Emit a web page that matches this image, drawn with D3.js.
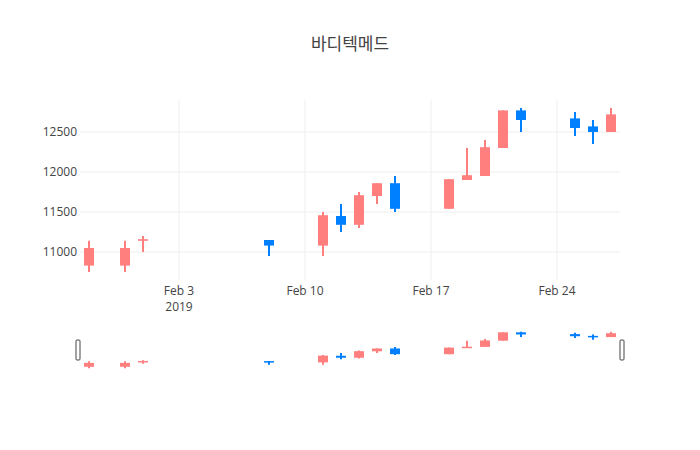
<!DOCTYPE html>
<html><head><meta charset="utf-8">
<script src="https://cdn.jsdelivr.net/npm/d3@7"></script>
<style>body{margin:0;background:#fff}text{font-family:"Open Sans","Noto Sans CJK KR",sans-serif}</style>
</head><body><svg id="c" width="700" height="450"></svg>
<script>
const dates=["2019-01-29","2019-01-31","2019-02-01","2019-02-08","2019-02-11","2019-02-12","2019-02-13","2019-02-14","2019-02-15","2019-02-18","2019-02-19","2019-02-20","2019-02-21","2019-02-22","2019-02-25","2019-02-26","2019-02-27"];
const open =[10830,10830,11140,11150,11080,11450,11340,11700,11860,11540,11900,11950,12300,12770,12670,12570,12500];
const high =[11140,11140,11200,11150,11500,11600,11750,11860,11950,11910,12300,12400,12770,12800,12750,12650,12800];
const low  =[10750,10750,11000,10950,10950,11250,11300,11600,11500,11540,11900,11950,12300,12500,12450,12350,12500];
const close=[11050,11050,11160,11080,11460,11340,11710,11860,11540,11910,11960,12310,12770,12650,12550,12500,12720];
const yTicks=[11000,11500,12000,12500];
const xTicks=["2019-02-03","2019-02-10","2019-02-17","2019-02-24"];
const title="바디텍메드";
const UP="#FF7F7F",DOWN="#007FFF";
const parse=d3.utcParse("%Y-%m-%d");
const data=dates.map((d,i)=>({t:parse(d),o:open[i],h:high[i],l:low[i],c:close[i]}));
const svg=d3.select("#c");
const L=80,R=620,T=100,B=280;
const half=12*3600e3;
const x=d3.scaleUtc().domain([+data[0].t-half,+data[data.length-1].t+half]).range([L,R]);
const y=d3.scaleLinear().domain([10650,12900]).range([B,T]);
const ys=d3.scaleLinear().domain([10650,12900]).range([370,330]);
svg.append("text").attr("x",350).attr("y",50).attr("text-anchor","middle").attr("font-size",17).attr("fill","#444").text(title);
const g=svg.append("g");
xTicks.forEach(t=>{const px=x(parse(t));g.append("line").attr("x1",px).attr("x2",px).attr("y1",T).attr("y2",B).attr("stroke","#eee");
 g.append("text").attr("x",px).attr("y",B+15).attr("text-anchor","middle").attr("font-size",12).attr("fill","#444").text(d3.utcFormat("%b %-d")(parse(t)));
 if(t===xTicks[0]) g.append("text").attr("x",px).attr("y",B+31).attr("text-anchor","middle").attr("font-size",12).attr("fill","#444").text("2019");});
yTicks.forEach(v=>{g.append("line").attr("x1",L).attr("x2",R).attr("y1",y(v)).attr("y2",y(v)).attr("stroke","#eee");
 g.append("text").attr("x",L-3).attr("y",y(v)+4).attr("text-anchor","end").attr("font-size",12).attr("fill","#444").text(v);});
function candles(sel,ys,bw){
 data.forEach(d=>{const col=d.c>=d.o?UP:DOWN,px=x(d.t);
  sel.append("line").attr("x1",px).attr("x2",px).attr("y1",ys(d.h)).attr("y2",ys(d.l)).attr("stroke",col).attr("stroke-width",2);
  const y0=ys(Math.max(d.o,d.c)),y1=ys(Math.min(d.o,d.c));
  sel.append("rect").attr("x",px-bw/2).attr("y",y0).attr("width",bw).attr("height",Math.max(y1-y0,1.5)).attr("fill",col);});
}
candles(svg.append("g"),y,10);
candles(svg.append("g"),ys,10);
[L-2,R+2].forEach(px=>svg.append("rect").attr("x",px-2).attr("y",340).attr("width",4).attr("height",20).attr("rx",1).attr("fill","#fff").attr("stroke","#444").attr("stroke-width",1));
</script></body></html>
